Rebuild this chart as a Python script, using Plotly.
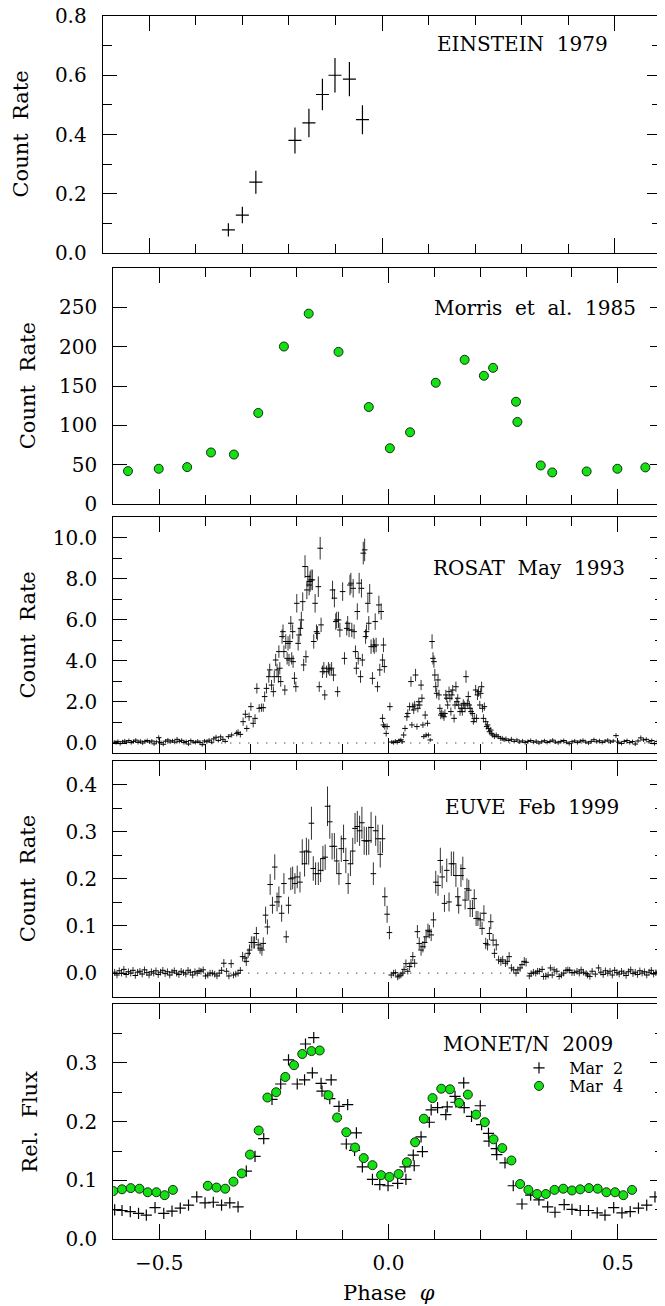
import plotly.graph_objects as go

FONT = "DejaVu Serif"
GREEN = "#14e014"
# the page body has an 8px margin, so the figure is drawn 8px in from the window corner
OFF = 8
W, H = 665 - OFF, 1306 - OFF

# ---------------- data ----------------
ein_phase = [-0.330, -0.300, -0.271, -0.187, -0.157, -0.128, -0.101, -0.070, -0.042]
ein_rate = [0.078, 0.128, 0.239, 0.380, 0.439, 0.535, 0.600, 0.587, 0.450]
ein_err = [0.022, 0.028, 0.039, 0.044, 0.048, 0.053, 0.058, 0.058, 0.049]
ein_dphase = 0.014

morris_phase = [-0.568, -0.501, -0.439, -0.387, -0.337, -0.284, -0.228, -0.174, -0.109, -0.043,
                0.003, 0.047, 0.103, 0.166, 0.208, 0.228, 0.278, 0.281, 0.332, 0.357, 0.432, 0.499, 0.560]
morris_rate = [41.8, 44.8, 46.9, 65.5, 62.9, 115.7, 200.2, 242.0, 193.4, 123.3,
               70.9, 91.2, 154.1, 183.3, 163.0, 173.1, 130.0, 104.3, 49.0, 40.1, 41.4, 44.8, 46.5]

rosat_phase = [
    -0.598, -0.594, -0.590, -0.585, -0.580, -0.575, -0.571, -0.566, -0.561, -0.556,
    -0.551, -0.546, -0.541, -0.536, -0.531, -0.526, -0.521, -0.516, -0.511, -0.506,
    -0.501, -0.496, -0.491, -0.486, -0.481, -0.476, -0.471, -0.466, -0.461, -0.456,
    -0.451, -0.446, -0.441, -0.436, -0.431, -0.426, -0.421, -0.416, -0.411, -0.406,
    -0.401, -0.396, -0.391, -0.386, -0.381, -0.376, -0.371, -0.366, -0.361, -0.356,
    -0.349, -0.342, -0.331, -0.328, -0.323, -0.317, -0.312, -0.309, -0.304, -0.300,
    -0.295, -0.291, -0.287, -0.282, -0.277, -0.273, -0.270, -0.266, -0.261, -0.259,
    -0.255, -0.251, -0.249, -0.246, -0.243, -0.240, -0.239, -0.237, -0.235, -0.232,
    -0.230, -0.228, -0.226, -0.224, -0.221, -0.219, -0.217, -0.215, -0.213, -0.211,
    -0.209, -0.208, -0.205, -0.202, -0.200, -0.197, -0.195, -0.192, -0.190, -0.187,
    -0.185, -0.182, -0.180, -0.178, -0.176, -0.173, -0.171, -0.169, -0.166, -0.163,
    -0.160, -0.157, -0.155, -0.153, -0.151, -0.149, -0.147, -0.144, -0.141, -0.139,
    -0.135, -0.131, -0.128, -0.124, -0.122, -0.120, -0.118, -0.115, -0.113, -0.111,
    -0.109, -0.106, -0.100, -0.096, -0.091, -0.089, -0.086, -0.084, -0.082, -0.080,
    -0.077, -0.075, -0.072, -0.070, -0.068, -0.066, -0.064, -0.061, -0.059, -0.057,
    -0.055, -0.052, -0.050, -0.048, -0.045, -0.043, -0.041, -0.038, -0.035, -0.033,
    -0.031, -0.029, -0.027, -0.024, -0.021, -0.019, -0.016, -0.013, -0.011, -0.009,
    -0.013, -0.011, -0.008, -0.005, -0.003, 0.003,
    0.007, 0.011, 0.015, 0.019, 0.023, 0.027, 0.030,
    0.033, 0.036, 0.040, 0.042, 0.046, 0.049, 0.051, 0.053, 0.055, 0.057,
    0.059, 0.062, 0.064, 0.066, 0.068, 0.071, 0.073, 0.075, 0.077, 0.080,
    0.082, 0.085, 0.087, 0.091, 0.095, 0.097, 0.099, 0.101, 0.103, 0.105,
    0.108, 0.110, 0.112, 0.114, 0.116, 0.119, 0.121, 0.123, 0.125, 0.127,
    0.129, 0.132, 0.134, 0.136, 0.138, 0.140, 0.143, 0.145, 0.147, 0.149,
    0.151, 0.153, 0.156, 0.159, 0.161, 0.163, 0.165, 0.167, 0.169, 0.172,
    0.174, 0.176, 0.178, 0.180, 0.183, 0.185, 0.187, 0.190, 0.192, 0.194,
    0.196, 0.199, 0.201, 0.203, 0.205, 0.207, 0.209, 0.212, 0.214, 0.216,
    0.218, 0.220, 0.223, 0.225, 0.227, 0.231, 0.235, 0.239, 0.244, 0.248, 0.252,
    0.256, 0.262, 0.268, 0.274, 0.280, 0.286, 0.292, 0.298, 0.304, 0.310,
    0.316, 0.322, 0.328, 0.334, 0.340, 0.346, 0.352, 0.358, 0.364, 0.370,
    0.376, 0.382, 0.388, 0.394, 0.400, 0.406, 0.412, 0.418, 0.424, 0.430,
    0.436, 0.442, 0.448, 0.454, 0.460, 0.466, 0.472, 0.478, 0.484, 0.490,
    0.496, 0.502, 0.508, 0.514, 0.520, 0.526, 0.532, 0.538, 0.544, 0.550,
    0.556, 0.562, 0.568, 0.574, 0.580, 0.586, 0.592, 0.598,
]
rosat_rate = [
    0.05, 0.02, 0.08, -0.03, 0.06, 0.10, 0.04, 0.12, 0.02, 0.07,
    0.14, 0.03, 0.09, 0.00, 0.08, 0.12, 0.05, 0.10, -0.04, 0.06,
    0.26, 0.02, -0.06, 0.09, 0.15, 0.05, 0.11, 0.04, 0.18, 0.08,
    0.13, 0.02, 0.07, -0.05, 0.12, 0.05, 0.03, 0.09, 0.02, -0.08,
    0.10, 0.06, 0.14, 0.04, 0.20, 0.28, 0.12, 0.30, 0.18, 0.08,
    0.31, 0.39, 0.47, 0.52, 0.42, 1.04, 1.40, 0.71, 1.28, 1.77,
    0.96, 1.20, 2.66, 1.69, 1.72, 1.72, 2.26, 2.66, 3.23, 3.56,
    2.82, 2.50, 3.23, 4.04, 3.56, 3.23, 4.45, 3.64, 2.99, 5.18,
    5.42, 4.45, 2.58, 4.94, 4.12, 4.85, 4.04, 4.94, 5.83, 4.12,
    5.42, 3.96, 3.15, 2.74, 6.80, 4.85, 5.26, 5.58, 5.99, 6.88,
    3.80, 8.59, 4.20, 7.45, 8.10, 7.69, 7.86, 7.94, 7.94, 4.94,
    6.80, 5.42, 5.34, 7.61, 2.74, 9.48, 5.75, 3.47, 3.64, 2.34,
    3.47, 3.64, 3.56, 3.64, 7.45, 3.31, 7.05, 5.91, 5.99, 2.50,
    5.99, 5.50, 7.37, 4.12, 5.58, 5.83, 5.50, 7.69, 7.78, 5.50,
    7.53, 5.42, 4.45, 3.64, 6.40, 4.12, 7.78, 3.23, 7.53, 4.04,
    9.24, 9.40, 5.18, 5.42, 6.80, 5.83, 7.29, 4.69, 3.15, 4.77,
    4.69, 5.91, 4.77, 2.74, 6.72, 3.56, 6.40, 4.04, 4.77, 3.72,
    1.20, 0.88, 0.80, 0.47, 0.80, 1.77,
    0.05, 0.02, 0.09, 0.03, 0.12, 0.16, 0.06,
    0.39, 0.71, 1.28, 1.44, 1.77, 2.99, 0.88, 1.77, 1.61, 1.85,
    3.31, 0.80, 1.69, 2.01, 1.85, 2.82, 2.18, 0.88, 0.31, 1.36,
    0.39, 0.96, 0.39, 0.15, 4.94, 4.12, 3.96, 3.31, 2.74, 2.42,
    3.07, 2.34, 1.69, 1.36, 1.44, 1.36, 1.28, 1.44, 2.34, 2.18,
    1.85, 2.50, 2.18, 1.53, 2.34, 2.58, 1.20, 1.85, 2.74, 2.01,
    2.18, 1.85, 1.53, 1.69, 1.53, 1.93, 1.85, 1.69, 3.23, 1.93,
    2.26, 1.85, 1.69, 1.53, 1.44, 1.04, 1.20, 2.58, 1.20, 2.34,
    2.50, 1.85, 2.42, 2.74, 1.69, 1.20, 1.77, 1.04, 0.80, 0.88,
    0.71, 0.55, 0.63, 0.47, 0.39, 0.31, 0.39, 0.31, 0.23, 0.23, 0.15,
    0.20, 0.12, 0.18, 0.08, 0.15, 0.05, 0.10, 0.02, 0.08, 0.12,
    0.04, 0.09, 0.00, 0.06, 0.11, 0.03, 0.07, 0.14, 0.05, 0.01,
    0.08, 0.12, 0.04, -0.03, 0.06, 0.10, 0.02, 0.09, 0.13, 0.05,
    0.00, 0.08, 0.16, 0.06, 0.11, 0.03, 0.09, 0.14, 0.05, 0.10,
    0.36, 0.04, -0.02, 0.08, 0.12, 0.02, 0.07, -0.05, 0.10, 0.25,
    0.15, 0.18, 0.06, 0.12, -0.03, 0.08, 0.14, 0.02,
]
rosat_err = [
    0.10, 0.10, 0.10, 0.10, 0.10, 0.10, 0.10, 0.10, 0.10, 0.10,
    0.10, 0.10, 0.10, 0.10, 0.10, 0.10, 0.10, 0.10, 0.10, 0.10,
    0.12, 0.10, 0.10, 0.10, 0.10, 0.10, 0.10, 0.10, 0.12, 0.10,
    0.10, 0.10, 0.10, 0.10, 0.10, 0.10, 0.10, 0.10, 0.10, 0.10,
    0.10, 0.10, 0.10, 0.10, 0.12, 0.12, 0.10, 0.12, 0.12, 0.10,
    0.12, 0.12, 0.15, 0.15, 0.15, 0.20, 0.20, 0.15, 0.20, 0.20,
    0.20, 0.20, 0.25, 0.20, 0.20, 0.20, 0.25, 0.25, 0.30, 0.30,
    0.25, 0.25, 0.30, 0.30, 0.30, 0.30, 0.30, 0.30, 0.25, 0.35,
    0.35, 0.30, 0.25, 0.35, 0.30, 0.35, 0.30, 0.35, 0.35, 0.30,
    0.35, 0.30, 0.30, 0.25, 0.45, 0.35, 0.35, 0.35, 0.40, 0.45,
    0.30, 0.55, 0.30, 0.45, 0.50, 0.50, 0.50, 0.50, 0.50, 0.35,
    0.45, 0.35, 0.35, 0.50, 0.25, 0.55, 0.35, 0.30, 0.30, 0.25,
    0.30, 0.30, 0.30, 0.30, 0.45, 0.30, 0.45, 0.40, 0.40, 0.25,
    0.40, 0.35, 0.45, 0.30, 0.35, 0.35, 0.35, 0.50, 0.50, 0.35,
    0.45, 0.35, 0.30, 0.30, 0.40, 0.30, 0.50, 0.30, 0.45, 0.30,
    0.55, 0.55, 0.35, 0.35, 0.45, 0.35, 0.45, 0.35, 0.30, 0.35,
    0.35, 0.40, 0.35, 0.25, 0.45, 0.30, 0.40, 0.30, 0.35, 0.30,
    0.20, 0.15, 0.15, 0.15, 0.15, 0.20,
    0.10, 0.10, 0.10, 0.10, 0.10, 0.10, 0.10,
    0.15, 0.15, 0.20, 0.20, 0.20, 0.25, 0.15, 0.20, 0.20, 0.20,
    0.30, 0.15, 0.20, 0.20, 0.20, 0.25, 0.20, 0.15, 0.12, 0.20,
    0.12, 0.15, 0.12, 0.10, 0.35, 0.30, 0.30, 0.30, 0.25, 0.25,
    0.30, 0.25, 0.20, 0.20, 0.20, 0.20, 0.20, 0.20, 0.25, 0.20,
    0.20, 0.25, 0.20, 0.20, 0.25, 0.25, 0.20, 0.20, 0.25, 0.20,
    0.20, 0.20, 0.20, 0.20, 0.20, 0.20, 0.20, 0.20, 0.30, 0.20,
    0.25, 0.20, 0.20, 0.20, 0.20, 0.15, 0.20, 0.25, 0.20, 0.25,
    0.25, 0.20, 0.25, 0.25, 0.20, 0.20, 0.20, 0.15, 0.15, 0.15,
    0.15, 0.15, 0.15, 0.12, 0.12, 0.12, 0.12, 0.12, 0.12, 0.12, 0.10,
    0.12, 0.10, 0.12, 0.10, 0.10, 0.10, 0.10, 0.10, 0.10, 0.10,
    0.10, 0.10, 0.10, 0.10, 0.10, 0.10, 0.10, 0.10, 0.10, 0.10,
    0.10, 0.10, 0.10, 0.10, 0.10, 0.10, 0.10, 0.10, 0.10, 0.10,
    0.10, 0.10, 0.10, 0.10, 0.10, 0.10, 0.10, 0.10, 0.10, 0.10,
    0.12, 0.10, 0.10, 0.10, 0.10, 0.10, 0.10, 0.10, 0.10, 0.12,
    0.10, 0.10, 0.10, 0.10, 0.10, 0.10, 0.10, 0.10,
]

euve_phase = [
    -0.597, -0.592, -0.587, -0.582, -0.577, -0.572, -0.567, -0.562, -0.557, -0.552,
    -0.547, -0.542, -0.537, -0.532, -0.527, -0.522, -0.517, -0.512, -0.507, -0.502,
    -0.497, -0.492, -0.487, -0.482, -0.477, -0.472, -0.467, -0.462, -0.457, -0.452,
    -0.447, -0.442, -0.437, -0.432, -0.427, -0.422, -0.417, -0.413,
    -0.409, -0.404, -0.399, -0.394, -0.389, -0.384, -0.379, -0.374, -0.369, -0.364,
    -0.359, -0.353, -0.348, -0.343, -0.338, -0.333, -0.328, -0.323, -0.318, -0.313,
    -0.310, -0.306, -0.303, -0.299, -0.295, -0.292, -0.288, -0.284, -0.280, -0.276,
    -0.273, -0.268, -0.264, -0.258, -0.253, -0.248, -0.243, -0.239, -0.233, -0.228,
    -0.223, -0.218, -0.213, -0.209, -0.204, -0.199, -0.193, -0.188, -0.183, -0.179,
    -0.174, -0.168, -0.164, -0.159, -0.153, -0.148, -0.143, -0.138, -0.133, -0.128,
    -0.123, -0.118, -0.113, -0.108, -0.103, -0.098, -0.093, -0.088, -0.083, -0.078,
    -0.073, -0.068, -0.063, -0.058, -0.053, -0.048, -0.043, -0.038, -0.033, -0.028,
    -0.023, -0.018, -0.013, -0.008, -0.003, 0.002,
    0.006, 0.011, 0.015, 0.020, 0.023, 0.027, 0.031, 0.034, 0.038, 0.042,
    0.046, 0.049, 0.053, 0.057, 0.063, 0.067, 0.071, 0.075, 0.079, 0.082,
    0.086, 0.089, 0.093, 0.098, 0.103, 0.108, 0.113, 0.117, 0.122, 0.127,
    0.132, 0.137, 0.142, 0.147, 0.151, 0.153, 0.158, 0.162, 0.167, 0.171,
    0.175, 0.178, 0.183, 0.187, 0.191, 0.195, 0.200, 0.204, 0.208, 0.212,
    0.216, 0.220, 0.223, 0.228, 0.231, 0.235, 0.240, 0.245, 0.249, 0.255,
    0.259, 0.263, 0.268, 0.273, 0.278, 0.282, 0.287, 0.291, 0.296, 0.300,
    0.307, 0.311, 0.316, 0.321, 0.325, 0.329, 0.335, 0.338, 0.343, 0.348,
    0.353, 0.357, 0.361, 0.367, 0.372, 0.377, 0.382, 0.387, 0.391, 0.395,
    0.400, 0.405, 0.411, 0.416, 0.420, 0.425, 0.431, 0.434, 0.439, 0.444,
    0.451, 0.458, 0.463, 0.468, 0.473, 0.478, 0.483, 0.488, 0.493, 0.498,
    0.503, 0.508, 0.513, 0.518, 0.523, 0.528, 0.533, 0.538, 0.543, 0.548,
    0.553, 0.558, 0.563, 0.568, 0.573, 0.578, 0.583, 0.588, 0.593, 0.598,
]
euve_rate = [
    0.002, -0.004, 0.005, 0.000, 0.008, -0.003, 0.003, 0.000, 0.006, -0.005,
    0.002, 0.004, -0.002, 0.007, 0.001, -0.004, 0.003, 0.000, 0.005, -0.003,
    0.002, 0.006, -0.001, 0.003, -0.004, 0.002, 0.005, 0.000, -0.003, 0.004,
    0.001, -0.002, 0.006, 0.002, -0.004, 0.003, 0.000, 0.005,
    0.004, 0.007, -0.006, -0.004, 0.000, 0.000, -0.002, -0.006, 0.000, 0.006,
    0.021, 0.004, -0.006, 0.020, -0.004, -0.002, 0.000, 0.006, 0.035, 0.032,
    0.025, 0.042, 0.049, 0.065, 0.065, 0.065, 0.084, 0.060, 0.053, 0.049,
    0.063, 0.123, 0.098, 0.188, 0.144, 0.225, 0.151, 0.162, 0.127, 0.190,
    0.077, 0.144, 0.200, 0.202, 0.190, 0.204, 0.193, 0.257, 0.232, 0.259,
    0.257, 0.318, 0.222, 0.211, 0.211, 0.218, 0.243, 0.246, 0.354, 0.321,
    0.269, 0.269, 0.238, 0.211, 0.264, 0.285, 0.239, 0.190, 0.232, 0.259,
    0.307, 0.311, 0.302, 0.319, 0.281, 0.280, 0.281, 0.309, 0.211, 0.302,
    0.285, 0.252, 0.285, 0.162, 0.125, 0.086,
    -0.004, 0.000, 0.001, -0.008, -0.006, -0.004, 0.000, 0.008, 0.020, 0.004,
    0.014, 0.021, 0.035, 0.021, 0.088, 0.063, 0.049, 0.056, 0.065, 0.077,
    0.091, 0.088, 0.081, 0.113, 0.193, 0.186, 0.239, 0.204, 0.148, 0.218,
    0.151, 0.232, 0.232, 0.207, 0.162, 0.144, 0.207, 0.222, 0.155, 0.179,
    0.176, 0.137, 0.137, 0.158, 0.116, 0.116, 0.113, 0.095, 0.127, 0.063,
    0.060, 0.084, 0.109, 0.070, 0.042, 0.060, 0.028, 0.025, 0.028, 0.021,
    0.025, 0.035, 0.011, 0.007, 0.000, 0.007, 0.011, 0.018, 0.025, 0.023,
    -0.006, -0.001, 0.002, 0.000, 0.004, 0.004, 0.008, -0.007, -0.007, -0.004,
    0.011, -0.004, 0.007, 0.004, -0.007, -0.004, 0.000, 0.006, 0.007, 0.006,
    0.001, 0.001, 0.004, 0.000, 0.007, 0.002, -0.001, -0.004, -0.007, 0.004,
    -0.002, 0.011, 0.002, -0.003, 0.005, 0.000, 0.004, -0.004, 0.006, 0.001,
    -0.002, 0.004, 0.000, -0.005, 0.003, 0.007, -0.001, 0.002, -0.003, 0.005,
    0.000, 0.003, -0.004, 0.002, 0.006, -0.002, 0.001, 0.004, -0.003, 0.002,
]
euve_err = [
    0.007, 0.007, 0.007, 0.007, 0.007, 0.007, 0.007, 0.007, 0.007, 0.007,
    0.007, 0.007, 0.007, 0.007, 0.007, 0.007, 0.007, 0.007, 0.007, 0.007,
    0.007, 0.007, 0.007, 0.007, 0.007, 0.007, 0.007, 0.007, 0.007, 0.007,
    0.007, 0.007, 0.007, 0.007, 0.007, 0.007, 0.007, 0.007,
    0.007, 0.007, 0.007, 0.007, 0.007, 0.007, 0.007, 0.007, 0.007, 0.007,
    0.009, 0.007, 0.007, 0.009, 0.007, 0.007, 0.007, 0.007, 0.010, 0.010,
    0.010, 0.010, 0.012, 0.013, 0.013, 0.013, 0.014, 0.013, 0.012, 0.012,
    0.013, 0.018, 0.016, 0.022, 0.018, 0.027, 0.020, 0.022, 0.018, 0.022,
    0.013, 0.018, 0.024, 0.024, 0.022, 0.024, 0.022, 0.027, 0.027, 0.028,
    0.027, 0.035, 0.026, 0.024, 0.024, 0.025, 0.027, 0.027, 0.042, 0.036,
    0.028, 0.028, 0.027, 0.024, 0.028, 0.030, 0.027, 0.022, 0.026, 0.028,
    0.033, 0.033, 0.032, 0.034, 0.030, 0.030, 0.030, 0.033, 0.024, 0.032,
    0.030, 0.028, 0.030, 0.020, 0.018, 0.014,
    0.007, 0.007, 0.007, 0.007, 0.007, 0.007, 0.007, 0.008, 0.009, 0.007,
    0.008, 0.009, 0.010, 0.009, 0.014, 0.013, 0.012, 0.012, 0.013, 0.013,
    0.014, 0.014, 0.013, 0.016, 0.024, 0.022, 0.027, 0.024, 0.018, 0.025,
    0.020, 0.026, 0.026, 0.024, 0.020, 0.018, 0.024, 0.025, 0.020, 0.022,
    0.022, 0.018, 0.018, 0.020, 0.016, 0.016, 0.016, 0.014, 0.017, 0.012,
    0.012, 0.014, 0.016, 0.013, 0.010, 0.012, 0.009, 0.009, 0.009, 0.008,
    0.009, 0.010, 0.008, 0.007, 0.007, 0.007, 0.008, 0.008, 0.009, 0.009,
    0.007, 0.007, 0.007, 0.007, 0.007, 0.007, 0.007, 0.007, 0.007, 0.007,
    0.007, 0.007, 0.007, 0.007, 0.007, 0.007, 0.007, 0.007, 0.007, 0.007,
    0.007, 0.007, 0.007, 0.007, 0.007, 0.007, 0.007, 0.007, 0.007, 0.007,
    0.007, 0.007, 0.007, 0.007, 0.007, 0.007, 0.007, 0.007, 0.007, 0.007,
    0.007, 0.007, 0.007, 0.007, 0.007, 0.007, 0.007, 0.007, 0.007, 0.007,
    0.007, 0.007, 0.007, 0.007, 0.007, 0.007, 0.007, 0.007, 0.007, 0.007,
]

mar2_phase = [
    -0.597, -0.581, -0.563, -0.545, -0.528, -0.509, -0.490, -0.472, -0.454, -0.436,
    -0.418, -0.400, -0.382, -0.364, -0.346, -0.328, -0.310, -0.291, -0.272, -0.254,
    -0.235, -0.218, -0.199, -0.181, -0.183, -0.166, -0.163, -0.147, -0.145, -0.125,
    -0.128, -0.108, -0.089, -0.092, -0.070, -0.074, -0.057, -0.035, -0.019, -0.001,
    0.020, 0.038, 0.036, 0.056, 0.054, 0.074, 0.071, 0.089, 0.093, 0.107,
    0.125, 0.128, 0.145, 0.147, 0.165, 0.164, 0.181, 0.200, 0.203, 0.218,
    0.219, 0.235, 0.236, 0.254, 0.272, 0.291, 0.310, 0.328, 0.347, 0.363,
    0.383, 0.400, 0.418, 0.436, 0.455, 0.472, 0.491, 0.509, 0.527, 0.545,
    0.563, 0.581, 0.599,
]
mar2_flux = [
    0.050, 0.049, 0.047, 0.044, 0.041, 0.054, 0.044, 0.048, 0.053, 0.058,
    0.072, 0.062, 0.063, 0.058, 0.062, 0.055, 0.116, 0.141, 0.171, 0.238,
    0.264, 0.305, 0.264, 0.332, 0.271, 0.283, 0.343, 0.265, 0.252, 0.271,
    0.239, 0.226, 0.229, 0.162, 0.181, 0.151, 0.123, 0.102, 0.093, 0.091,
    0.095, 0.102, 0.123, 0.125, 0.143, 0.149, 0.174, 0.199, 0.220, 0.224,
    0.212, 0.225, 0.243, 0.233, 0.224, 0.266, 0.209, 0.227, 0.195, 0.180,
    0.167, 0.154, 0.144, 0.130, 0.091, 0.060, 0.075, 0.067, 0.055, 0.046,
    0.059, 0.051, 0.049, 0.049, 0.045, 0.041, 0.054, 0.045, 0.047, 0.053,
    0.058, 0.072, 0.078,
]

mar4_phase = [
    -0.600, -0.581, -0.562, -0.543, -0.525, -0.506, -0.488, -0.470, -0.394, -0.375,
    -0.356, -0.338, -0.320, -0.302, -0.283, -0.264, -0.245, -0.225, -0.206, -0.188,
    -0.168, -0.150, -0.131, -0.112, -0.092, -0.073, -0.054, -0.035, -0.016, 0.002,
    0.022, 0.040, 0.058, 0.077, 0.096, 0.115, 0.134, 0.154, 0.173, 0.191,
    0.210, 0.229, 0.248, 0.268, 0.287, 0.305, 0.324, 0.343, 0.362, 0.381,
    0.400, 0.418, 0.437, 0.456, 0.475, 0.494, 0.512, 0.531, 0.599,
]
mar4_flux = [
    0.082, 0.085, 0.087, 0.086, 0.080, 0.080, 0.075, 0.084, 0.091, 0.088,
    0.086, 0.098, 0.112, 0.144, 0.185, 0.241, 0.250, 0.276, 0.296, 0.315,
    0.320, 0.321, 0.245, 0.207, 0.182, 0.156, 0.138, 0.126, 0.109, 0.106,
    0.111, 0.131, 0.165, 0.205, 0.240, 0.256, 0.255, 0.232, 0.246, 0.212,
    0.199, 0.170, 0.155, 0.134, 0.094, 0.084, 0.077, 0.077, 0.084, 0.086,
    0.083, 0.085, 0.087, 0.086, 0.080, 0.080, 0.075, 0.084, 0.091,
]

# y tick values per panel
y1_ticks = [0.0, 0.2, 0.4, 0.6, 0.8]
y2_ticks = [0, 50, 100, 150, 200, 250]
y3_ticks = [0, 2, 4, 6, 8, 10]
y4_ticks = [0.0, 0.1, 0.2, 0.3, 0.4]
y5_ticks = [0.0, 0.1, 0.2, 0.3]
x_ticks = [-0.5, 0.0, 0.5]


def fx(px):
    """window pixel x -> paper fraction"""
    return (px - OFF) / W


def fy(py):
    """window pixel y -> paper fraction"""
    return 1 - (py - OFF) / H


# ---------------- geometry (window-pixel boxes of the five panels) ----------------
panels = [
    dict(x0=102.7, x1=661.3, y0=16.0, y1=253.0),
    dict(x0=113.3, x1=663.7, y0=268.0, y1=504.0),
    dict(x0=113.3, x1=663.7, y0=517.0, y1=753.3),
    dict(x0=113.3, x1=663.7, y0=761.0, y1=996.7),
    dict(x0=113.3, x1=663.7, y0=1004.0, y1=1239.3),
]
yspecs = [
    dict(range=[0, 0.8], vals=y1_ticks, minor=0.1, fmt=".1f"),
    dict(range=[0, 300], vals=y2_ticks, minor=None, fmt="d"),
    dict(range=[-0.5, 11], vals=y3_ticks, minor=1, fmt=".1f"),
    dict(range=[-0.05, 0.45], vals=y4_ticks, minor=0.05, fmt=".1f"),
    dict(range=[0, 0.4], vals=y5_ticks, minor=0.05, fmt=".1f"),
]

fig = go.Figure()


def ax(i):
    return ("x" if i == 1 else f"x{i}"), ("y" if i == 1 else f"y{i}")


# Panel 1: Einstein
xa, ya = ax(1)
fig.add_trace(go.Scatter(
    x=ein_phase, y=ein_rate, mode="markers", xaxis=xa, yaxis=ya, showlegend=False,
    marker=dict(size=1, color="black"),
    error_y=dict(type="data", array=ein_err, thickness=1.2, width=0, color="black"),
    error_x=dict(type="constant", value=ein_dphase, thickness=1.2, width=0, color="black"),
))
# Panel 2: Morris
xa, ya = ax(2)
fig.add_trace(go.Scatter(
    x=morris_phase, y=morris_rate, mode="markers", xaxis=xa, yaxis=ya, showlegend=False,
    marker=dict(symbol="circle", size=9, color=GREEN, line=dict(width=1, color="#103010")),
))
# Panel 3: ROSAT
xa, ya = ax(3)
fig.add_trace(go.Scatter(
    x=rosat_phase, y=rosat_rate, mode="markers", xaxis=xa, yaxis=ya, showlegend=False,
    marker=dict(symbol="line-ew", size=4, line=dict(width=1, color="black")),
    error_y=dict(type="data", array=rosat_err, thickness=1, width=0, color="#333333"),
))
# Panel 4: EUVE
xa, ya = ax(4)
fig.add_trace(go.Scatter(
    x=euve_phase, y=euve_rate, mode="markers", xaxis=xa, yaxis=ya, showlegend=False,
    marker=dict(symbol="line-ew", size=4, line=dict(width=1, color="black")),
    error_y=dict(type="data", array=euve_err, thickness=1, width=0, color="#333333"),
))
# Panel 5: MONET
NB = "\u00a0"
xa, ya = ax(5)
fig.add_trace(go.Scatter(
    x=mar2_phase, y=mar2_flux, mode="markers", xaxis=xa, yaxis=ya,
    name=NB * 2 + "Mar" + NB * 2 + "2", legend="legend",
    marker=dict(symbol="cross-thin", size=8, color="black", line=dict(width=1.2, color="black")),
))
fig.add_trace(go.Scatter(
    x=mar4_phase, y=mar4_flux, mode="markers", xaxis=xa, yaxis=ya,
    name=NB * 2 + "Mar" + NB * 2 + "4", legend="legend2",
    marker=dict(symbol="circle", size=9, color=GREEN, line=dict(width=1, color="#103010")),
))

tickfont = dict(family=FONT, size=20, color="black")
legfont = dict(family=FONT, size=16, color="black")
layout = dict(
    template="none",
    width=W, height=H, margin=dict(l=0, r=0, t=0, b=0, pad=0),
    paper_bgcolor="white", plot_bgcolor="white",
    font=dict(family=FONT, color="black"),
    showlegend=True,
    legend=dict(x=fx(519), y=fy(1068), xanchor="left", yanchor="middle", font=legfont,
                bgcolor="rgba(0,0,0,0)", borderwidth=0),
    legend2=dict(x=fx(519), y=fy(1086), xanchor="left", yanchor="middle", font=legfont,
                 bgcolor="rgba(0,0,0,0)", borderwidth=0),
)

for i, (p, ys) in enumerate(zip(panels, yspecs), start=1):
    xk = "xaxis" if i == 1 else f"xaxis{i}"
    yk = "yaxis" if i == 1 else f"yaxis{i}"
    xa, ya = ax(i)
    layout[xk] = dict(
        domain=[fx(p["x0"]), fx(p["x1"])], range=[-0.6, 0.6], anchor=ya, automargin=False,
        showline=True, linecolor="black", linewidth=1, mirror="allticks",
        ticks="inside", ticklen=15, tickwidth=1, tickcolor="black",
        tickmode="array", tickvals=x_ticks,
        minor=dict(dtick=0.1, tick0=0, ticks="inside", ticklen=9, tickwidth=1,
                   tickcolor="black", showgrid=False),
        showgrid=False, zeroline=False, showticklabels=(i == 5),
        tickformat=".1f", tickfont=tickfont, ticklabelstandoff=6, ticklabeloverflow="allow",
    )
    yd = dict(
        domain=[fy(p["y1"]), fy(p["y0"])], range=ys["range"], anchor=xa, automargin=False,
        showline=True, linecolor="black", linewidth=1, mirror="allticks",
        ticks="inside", ticklen=14, tickwidth=1, tickcolor="black",
        tickmode="array", tickvals=ys["vals"],
        showgrid=False, zeroline=False, showticklabels=True,
        tickformat=ys["fmt"], tickfont=tickfont, ticklabelstandoff=11, ticklabeloverflow="allow",
    )
    if ys["minor"] is not None:
        yd["minor"] = dict(dtick=ys["minor"], tick0=0, ticks="inside", ticklen=9, tickwidth=1,
                           tickcolor="black", showgrid=False)
    layout[yk] = yd

fig.update_layout(**layout)

# dotted zero lines (ROSAT, EUVE)
for i in (3, 4):
    xa, ya = ax(i)
    fig.add_shape(type="line", xref=xa, yref=ya, x0=-0.6, x1=0.6, y0=0, y1=0,
                  line=dict(color="black", width=1, dash="1px,8px"), layer="below")

# panel labels
labels = [
    ("EINSTEIN" + NB * 2 + "1979", 610, 44),
    ("Morris" + NB * 2 + "et" + NB * 2 + "al." + NB * 2 + "1985", 638, 308),
    ("ROSAT" + NB * 2 + "May" + NB * 2 + "1993", 627, 568),
    ("EUVE" + NB * 2 + "Feb" + NB * 2 + "1999", 621, 807),
    ("MONET/N" + NB * 2 + "2009", 615, 1044),
]
for txt, xr, yc in labels:
    fig.add_annotation(text=txt, x=fx(xr), y=fy(yc), xref="paper", yref="paper",
                       xanchor="right", yanchor="middle", showarrow=False,
                       font=dict(family=FONT, size=20, color="black"))

# axis titles
ct = "Count" + NB * 2 + "Rate"
ytitles = [(ct, 21), (ct, 28.3), (ct, 28.3), (ct, 28.3), ("Rel." + NB * 2 + "Flux", 30)]
for (txt, xc), p in zip(ytitles, panels):
    fig.add_annotation(text=txt, x=fx(xc), y=fy((p["y0"] + p["y1"]) / 2), xref="paper", yref="paper",
                       xanchor="center", yanchor="middle", textangle=-90, showarrow=False,
                       font=dict(family=FONT, size=21, color="black"))
fig.add_annotation(text="Phase" + NB * 2 + "<i>φ</i>", x=fx(389), y=fy(1293), xref="paper", yref="paper",
                   xanchor="center", yanchor="middle", showarrow=False,
                   font=dict(family=FONT, size=21, color="black"))

fig.write_html("out.html")
